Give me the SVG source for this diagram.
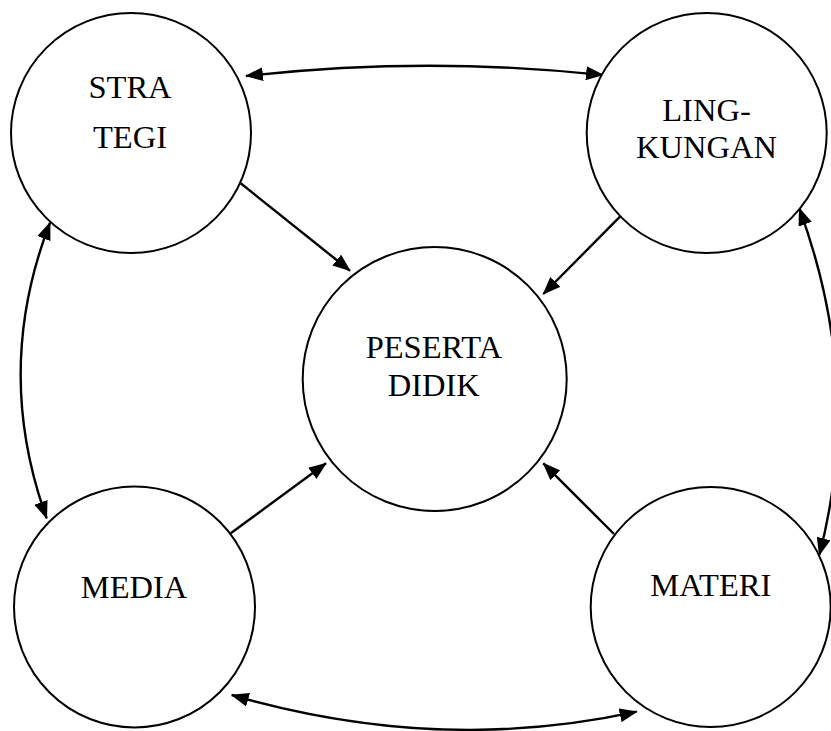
<svg xmlns="http://www.w3.org/2000/svg" width="831" height="731" viewBox="0 0 831 731">
<style>
.node circle{fill:#fff;stroke:#000;stroke-width:2}
.node text{font-family:"Liberation Serif","Times New Roman",serif;font-size:32.5px;fill:#000;text-anchor:middle}
.edge{fill:none;stroke:#000;stroke-width:2.4}
.one{marker-end:url(#ah)}
.two{marker-start:url(#ah);marker-end:url(#ah)}
</style>
<defs>
<marker id="ah" markerUnits="userSpaceOnUse" viewBox="0 0 18 14" refX="17" refY="7" markerWidth="18" markerHeight="14" orient="auto-start-reverse">
<path d="M0,0 L18,7 L0,14 z" fill="#000"/>
</marker>
</defs>
<rect width="831" height="731" fill="#fff"/>
<g id="connectors">
<path class="edge two" d="M246,76 Q425,56 603,75"/>
<path class="edge two" d="M50,222.7 Q-7,370 46.7,518.3"/>
<path class="edge two" d="M799.3,208.3 Q864,385 819.3,555"/>
<path class="edge two" d="M231.7,695 Q440,755 636.7,711.7"/>
<path class="edge one" d="M240.7,183.3 L350,270.7"/>
<path class="edge one" d="M620,216.7 L543.3,294"/>
<path class="edge one" d="M230.7,533.3 L326,463.3"/>
<path class="edge one" d="M614,534 L543.3,463.3"/>
</g>
<g id="strategi" class="node">
<circle cx="131" cy="133" r="120"/>
<text x="130" y="98">STRA</text>
<text x="130" y="148">TEGI</text>
</g>
<g id="lingkungan" class="node">
<circle cx="706.7" cy="133" r="120"/>
<text x="706.5" y="120.7">LING-</text>
<text x="706.5" y="158">KUNGAN</text>
</g>
<g id="peserta-didik" class="node">
<circle cx="434.7" cy="379" r="132"/>
<text x="433.8" y="358.3">PESERTA</text>
<text x="433.8" y="395.7">DIDIK</text>
</g>
<g id="media" class="node">
<circle cx="134.5" cy="607" r="120.5"/>
<text x="134" y="597.7">MEDIA</text>
</g>
<g id="materi" class="node">
<circle cx="710.7" cy="607" r="120"/>
<text x="710.8" y="596">MATERI</text>
</g>
</svg>
